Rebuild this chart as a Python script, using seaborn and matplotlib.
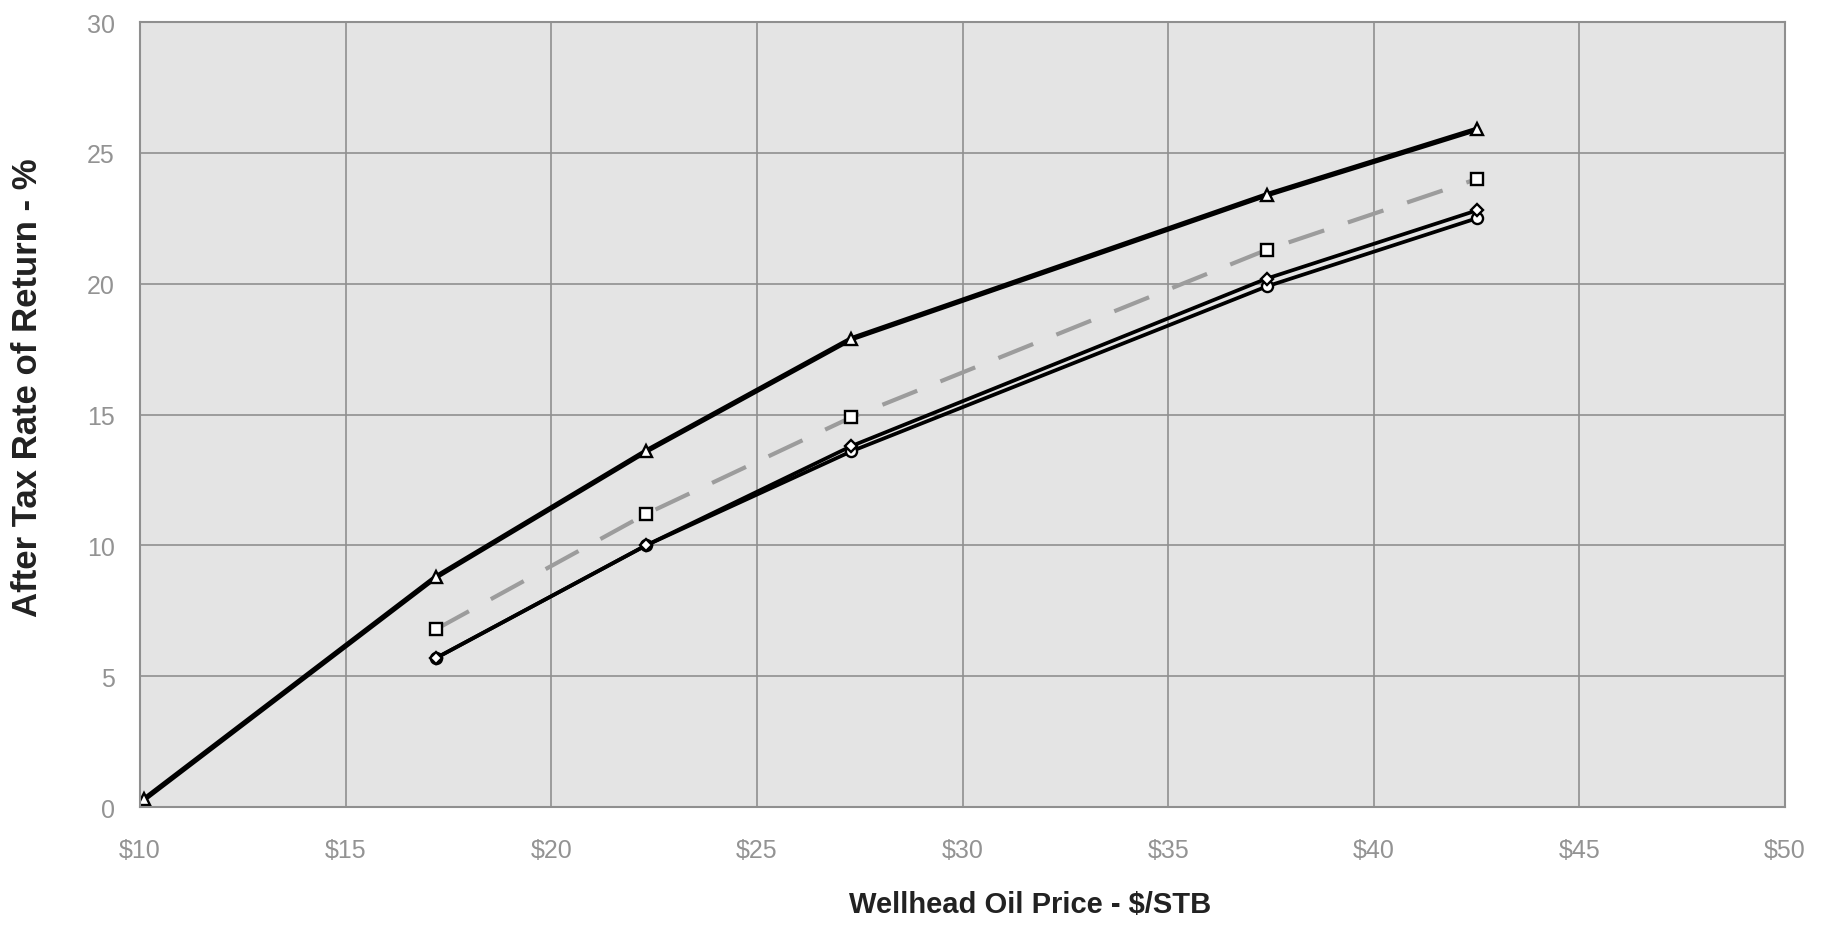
import matplotlib

matplotlib.use("Agg")
import matplotlib.pyplot as plt
import pandas as pd
import seaborn as sns

# valores (preço em $/STB, taxa de retorno em %)
price_triangle = [10.1, 17.2, 22.3, 27.3, 37.4, 42.5]
ror_triangle = [0.3, 8.8, 13.6, 17.9, 23.4, 25.9]

price_square = [17.2, 22.3, 27.3, 37.4, 42.5]
ror_square = [6.8, 11.2, 14.9, 21.3, 24.0]

price_diamond = [17.2, 22.3, 27.3, 37.4, 42.5]
ror_diamond = [5.7, 10.0, 13.8, 20.2, 22.8]

price_circle = [17.2, 22.3, 27.3, 37.4, 42.5]
ror_circle = [5.7, 10.0, 13.6, 19.9, 22.5]

x_ticks = [10, 15, 20, 25, 30, 35, 40, 45, 50]
x_tick_labels = ["$10", "$15", "$20", "$25", "$30", "$35", "$40", "$45", "$50"]
y_ticks = [0, 5, 10, 15, 20, 25, 30]

sns.set_style("whitegrid")
plt.rcParams["font.family"] = ["Liberation Sans", "DejaVu Sans"]

fig = plt.figure(figsize=(18.29, 9.29), dpi=100, facecolor="white")
ax = fig.add_axes([0.0765, 0.1300, 0.8995, 0.8452])
ax.set_facecolor("#e4e4e4")

series = [
    (price_circle, ror_circle, "o", "black", 2.7, None),
    (price_diamond, ror_diamond, "D", "black", 2.7, None),
    (price_square, ror_square, "s", "#9c9c9c", 3.0, (9, 6)),
    (price_triangle, ror_triangle, "^", "black", 3.8, None),
]

for xs, ys, mk, col, lw, dash in series:
    df = pd.DataFrame({"price": xs, "ror": ys})
    sns.lineplot(data=df, x="price", y="ror", ax=ax, color=col, linewidth=lw,
                 marker=mk, markersize=8 if mk != "D" else 6.5,
                 markerfacecolor="white", markeredgecolor="black",
                 markeredgewidth=1.7, errorbar=None)
    if dash is not None:
        ax.lines[-1].set_dashes(dash)

ax.set_xlim(10, 50)
ax.set_ylim(0, 30)
ax.set_xticks(x_ticks)
ax.set_xticklabels(x_tick_labels)
ax.set_yticks(y_ticks)
ax.tick_params(axis="both", length=0, labelsize=18, labelcolor="#939393")
ax.tick_params(axis="x", pad=22)
ax.tick_params(axis="y", pad=18)

ax.grid(True, color="#8f8f8f", linewidth=1.2)
for side in ["left", "right", "top", "bottom"]:
    ax.spines[side].set_color("#8f8f8f")
    ax.spines[side].set_linewidth(1.5)

ax.set_xlabel("Wellhead Oil Price - $/STB", fontsize=21, fontweight="bold",
              color="#222222")
ax.set_ylabel("After Tax Rate of Return - %", fontsize=25, fontweight="bold",
              color="#222222")
ax.xaxis.set_label_coords(0.541, -0.105)
ax.yaxis.set_label_coords(-0.058, 0.535)

fig.savefig("out.png", dpi=100, facecolor="white")
plt.close(fig)
